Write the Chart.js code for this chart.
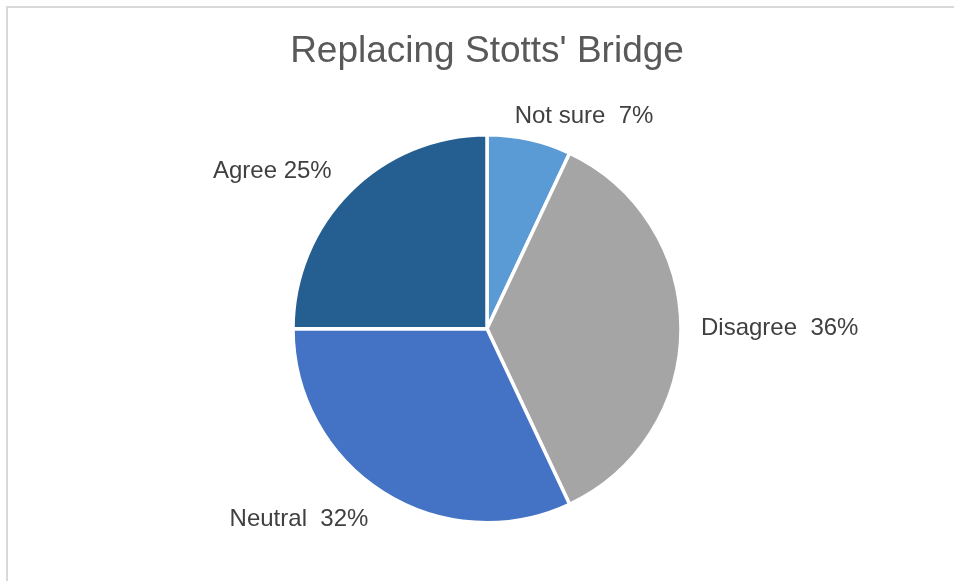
<!DOCTYPE html>
<html>
<head>
<meta charset="utf-8">
<title>Replacing Stotts' Bridge</title>
<script src="https://cdn.jsdelivr.net/npm/chart.js@4/dist/chart.umd.min.js"></script>
<style>
    html, body { margin: 0; padding: 0; background: #ffffff; }
    #grafico { display: block; }
</style>
</head>
<body>
<canvas id="grafico" width="954" height="581"></canvas>
<script>
// ===================================== Datos ===================================
const categorias = ['Not sure', 'Disagree', 'Neutral', 'Agree'];
const porcentajes = [7, 36, 32, 25];
const separadores = ['  ', '  ', '  ', ' '];
const colores = ['#5B9BD5', '#A5A5A5', '#4472C4', '#255E91'];
const titulo = "Replacing Stotts' Bridge";


// ===================================== Marco gris del grafico ==================
const marcoPlugin = {
    id: 'marco',
    beforeDraw(chart) {
        const ctx = chart.ctx;
        ctx.save();
        ctx.fillStyle = '#ffffff';
        ctx.fillRect(0, 0, chart.width, chart.height);
        ctx.strokeStyle = '#d9d9d9';
        ctx.lineWidth = 2;
        ctx.strokeRect(7, 7, chart.width + 20, chart.height + 20);
        ctx.restore();
    }
};


// ===================================== Etiquetas fuera del pastel ==============
const etiquetasPlugin = {
    id: 'etiquetas',
    afterDatasetsDraw(chart, args, opts) {
        const ctx = chart.ctx;
        const meta = chart.getDatasetMeta(0);
        ctx.save();
        ctx.font = opts.font;
        ctx.fillStyle = opts.color;
        ctx.textAlign = 'center';
        ctx.textBaseline = 'middle';

        meta.data.forEach((arc, i) => {
            const p = arc.getProps(['x', 'y', 'startAngle', 'endAngle', 'outerRadius'], true);
            const medio = (p.startAngle + p.endAngle) / 2;
            const dx = Math.cos(medio);
            const dy = Math.sin(medio);
            const texto = categorias[i] + separadores[i] + porcentajes[i] + '%';
            const ancho = ctx.measureText(texto).width;

            // punto de anclaje justo fuera del borde
            const ax = p.x + (p.outerRadius + opts.distancia) * dx;
            const ay = p.y + (p.outerRadius + opts.distancia) * dy;

            const ajuste = opts.ajustes[i] || { x: 0, y: 0 };
            const cx = ax + Math.sign(dx) * ancho / 2 + ajuste.x;
            const cy = ay + dy * 9 + ajuste.y;
            ctx.fillText(texto, cx, cy);
        });
        ctx.restore();
    }
};


// ===================================== Grafico de pastel =======================
new Chart(document.getElementById('grafico'), {
    type: 'pie',
    data: {
        labels: categorias,
        datasets: [{
            data: porcentajes,
            backgroundColor: colores,
            borderColor: '#ffffff',
            borderWidth: 3.5,
            hoverOffset: 0
        }]
    },
    options: {
        responsive: false,
        animation: false,
        radius: 194,
        layout: {
            padding: { top: 0, bottom: 58, left: 20, right: 0 }
        },
        plugins: {
            legend: { display: false },
            tooltip: { enabled: false },
            title: {
                display: true,
                text: titulo,
                color: '#595959',
                font: { family: "'Liberation Sans', Arial, sans-serif", size: 37, weight: 'normal' },
                padding: { top: 30, bottom: 60 }
            },
            etiquetas: {
                font: "24px 'Liberation Sans', Arial, sans-serif",
                color: '#404040',
                distancia: 20,
                ajustes: [{ x: -19, y: 5 }, { x: 0, y: 0 }, { x: -4, y: 2 }, { x: -4, y: 0 }]
            }
        }
    },
    plugins: [marcoPlugin, etiquetasPlugin]
});
</script>
</body>
</html>
